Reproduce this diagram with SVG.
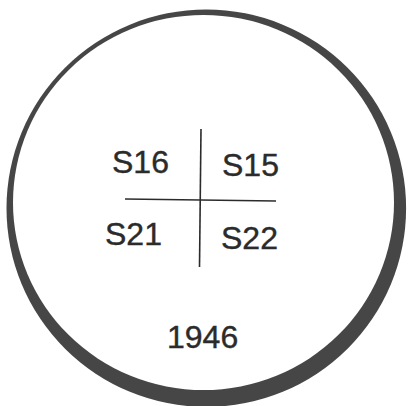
<svg xmlns="http://www.w3.org/2000/svg" width="411" height="406" viewBox="0 0 411 406">
<style>
.lbl{font-family:"Liberation Sans",Arial,sans-serif;font-size:32px;fill:#2b2b2b;stroke:#2b2b2b;stroke-width:0.4}
.ln{stroke:#2b2b2b;stroke-width:1.6;fill:none}
</style>
<rect width="411" height="406" fill="#ffffff"/>
<g id="disc">
<ellipse cx="206.3" cy="208.2" rx="199.8" ry="198.7" fill="#464646"/>
<ellipse cx="203.5" cy="202.5" rx="190.5" ry="187.5" fill="#ffffff"/>
</g>
<g id="connectors">
<line class="ln" x1="201" y1="129" x2="199.5" y2="267"/>
<line class="ln" x1="125" y1="199" x2="276" y2="201"/>
</g>
<g id="s16"><text class="lbl" x="112" y="173">S16</text></g>
<g id="s15"><text class="lbl" x="222" y="176">S15</text></g>
<g id="s21"><text class="lbl" x="105" y="245">S21</text></g>
<g id="s22"><text class="lbl" x="221" y="249">S22</text></g>
<g id="year"><text class="lbl" x="167" y="348">1946</text></g>
</svg>
